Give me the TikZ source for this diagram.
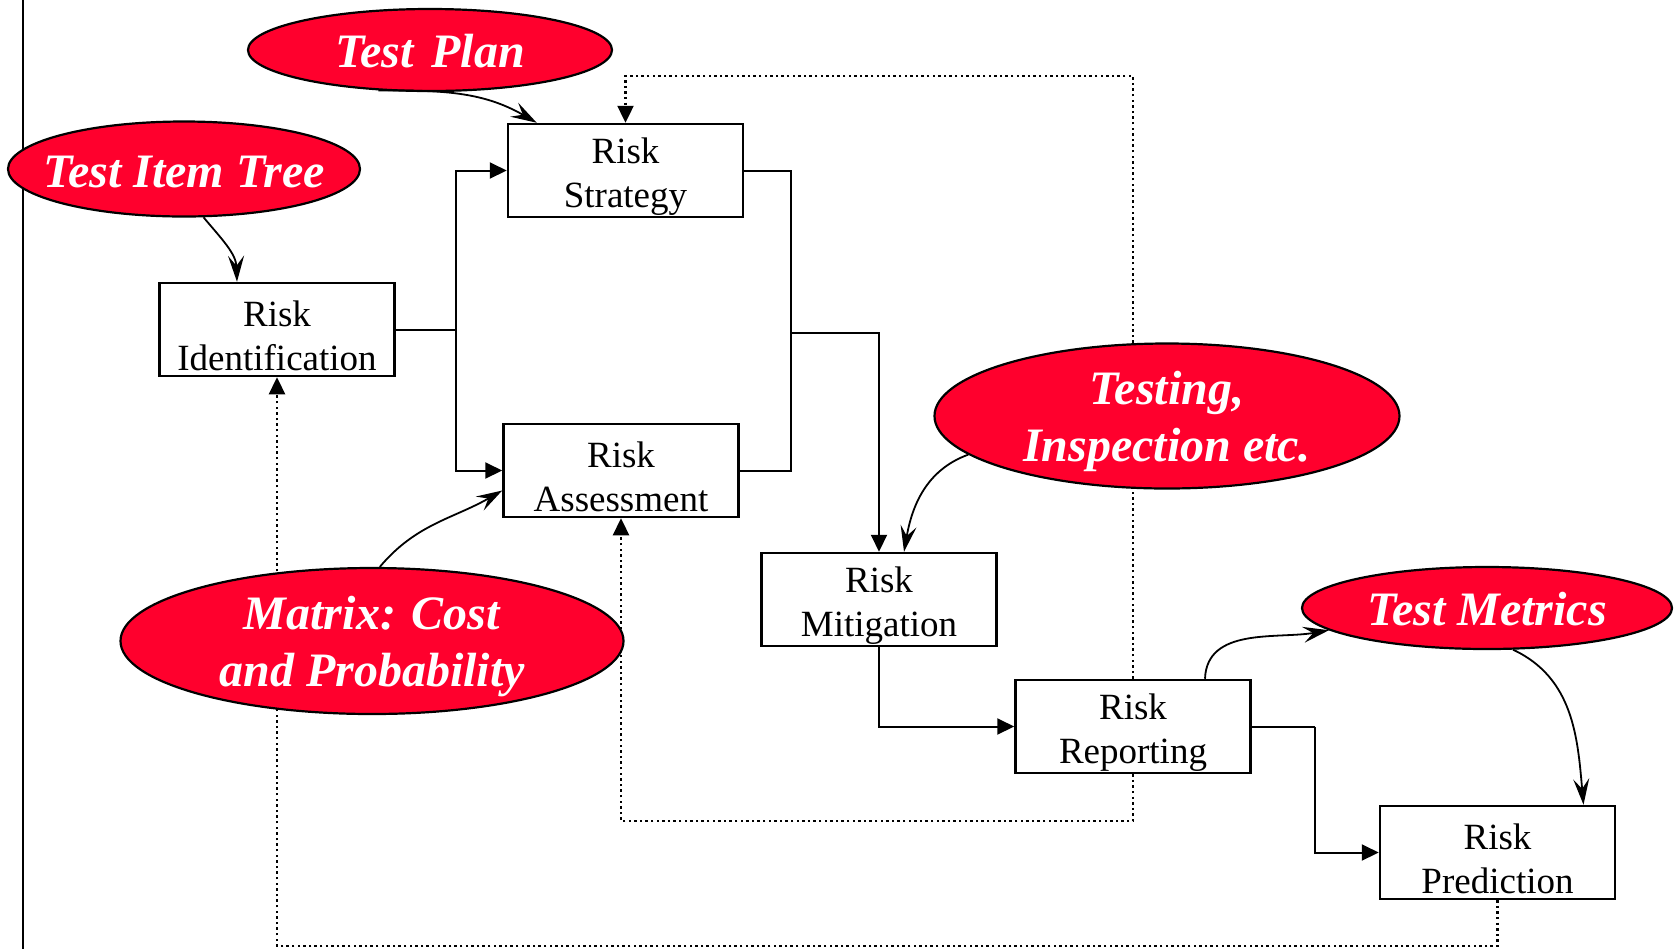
\documentclass[tikz,border=0pt]{standalone}
\usepackage{fontspec}
\setmainfont{Liberation Serif}
\usetikzlibrary{shapes.geometric,arrows.meta,backgrounds}
\definecolor{ered}{RGB}{255,0,45}
\newcommand{\zw}[1]{\makebox[0pt]{#1}}
\newcommand{\bx}[2]{\rule{0pt}{19pt}#1\\#2}
\begin{document}
\begin{tikzpicture}[x=0.5pt,y=0.5pt,
 box/.style={draw, line width=1.25pt, fill=white, minimum width=117.5pt, minimum height=46.5pt, inner sep=0pt, align=center, font=\fontsize{18.5}{22}\selectfont},
 bubble/.style={ellipse, draw, line width=1.1pt, fill=ered, text=white, inner xsep=0pt, inner ysep=-3pt, align=center, font=\fontsize{24}{28.5}\selectfont\bfseries\itshape},
 flow/.style={line width=1pt, -{Triangle[length=8.5pt,width=8pt]}},
 plain/.style={line width=1pt},
 dotline/.style={line width=1.2pt, dash pattern=on 1.2pt off 1.6pt},
 curve/.style={line width=0.9pt, -{Stealth[length=13pt,width=8pt,inset=5pt]}}]
\useasboundingbox (0,0) rectangle (1676,-949);

% boxes
\node[box] (strat)  at (625.5,-170.5) {\bx{Risk}{Strategy}};
\node[box] (ident)  at (277,-329.5)   {\bx{Risk}{Identification}};
\node[box] (assess) at (621,-470.5)   {\bx{Risk}{Assessment}};
\node[box] (mitig)  at (879,-599.5)   {\bx{Risk}{Mitigation}};
\node[box] (report) at (1133,-726.5)  {\bx{Risk}{Reporting}};
\node[box] (pred)   at (1497.5,-852.5){\bx{Risk}{Prediction}};

% ellipses
\node[bubble, minimum width=182pt, minimum height=41pt] (tplan) at (430,-50) {\rule{0pt}{17.5pt}\zw{Test\kern3pt\ Plan}};
\node[bubble, minimum width=176pt, minimum height=47.5pt] (tit) at (184,-169) {\rule{0pt}{18.5pt}\zw{Test Item Tree}};
\node[bubble, minimum width=251.5pt, minimum height=73pt] (matrix) at (372,-641) {\rule{0pt}{22.5pt}\zw{Matrix: Cost}\\\zw{and Probability}};
\node[bubble, minimum width=232.5pt, minimum height=72.5pt] (testing) at (1167,-416) {\rule{0pt}{22.5pt}\zw{Testing,}\\\zw{Inspection etc.}};
\node[bubble, minimum width=185pt, minimum height=41pt] (tmetric) at (1487,-608) {\rule{0pt}{17.5pt}\zw{Test Metrics}};

% junctions
\coordinate (j1) at (456,-329.5);
\coordinate (j2) at (791,-333);
\coordinate (j3) at (1315,-726.5);
\coordinate (d1) at (1497.5,-946);
\coordinate (d2) at (1133,-76);
\coordinate (d3) at (1133,-821);

\begin{scope}[on background layer]
\fill[white] (0,0) rectangle (1676,-949);
\draw[line width=1pt] (23,0) -- (23,-949);
\draw[plain] (ident.east) -- (j1);
\draw[flow] (j1) |- (strat.west);
\draw[flow] (j1) |- (assess.west);
\draw[plain] (strat.east) -| (j2);
\draw[plain] (assess.east) -| (j2);
\draw[flow] (j2) -| (mitig.north);
\draw[flow] (mitig.south) |- (report.west);
\draw[plain] (report.east) -- (j3);
\draw[flow] (j3) |- (pred.west);
\draw[flow,dotline] (pred.south) -- (d1) -| (ident.south);
\draw[flow,dotline] (report.north) -- (d2) -| (strat.north);
\draw[flow,dotline] (report.south) -- (d3) -| (assess.south);
\end{scope}

% curved arrows
\draw[curve] (tplan.-142) to[out=0,in=150] ([xshift=15pt]strat.north west);
\draw[curve] (tit.-68) to[out=-50,in=92] ([xshift=-20pt]ident.north);
\draw[curve] (matrix.84) to[out=50,in=-150] ([yshift=-10pt]assess.west);
\draw[curve] (testing.191) to[out=200,in=80] ([xshift=12.5pt]mitig.north);
\draw[curve] ([xshift=36pt]report.north) to[out=88,in=190] (tmetric.188);
\draw[curve] (tmetric.-58) to[out=-25,in=95] ([xshift=43pt]pred.north);
\end{tikzpicture}
\end{document}
